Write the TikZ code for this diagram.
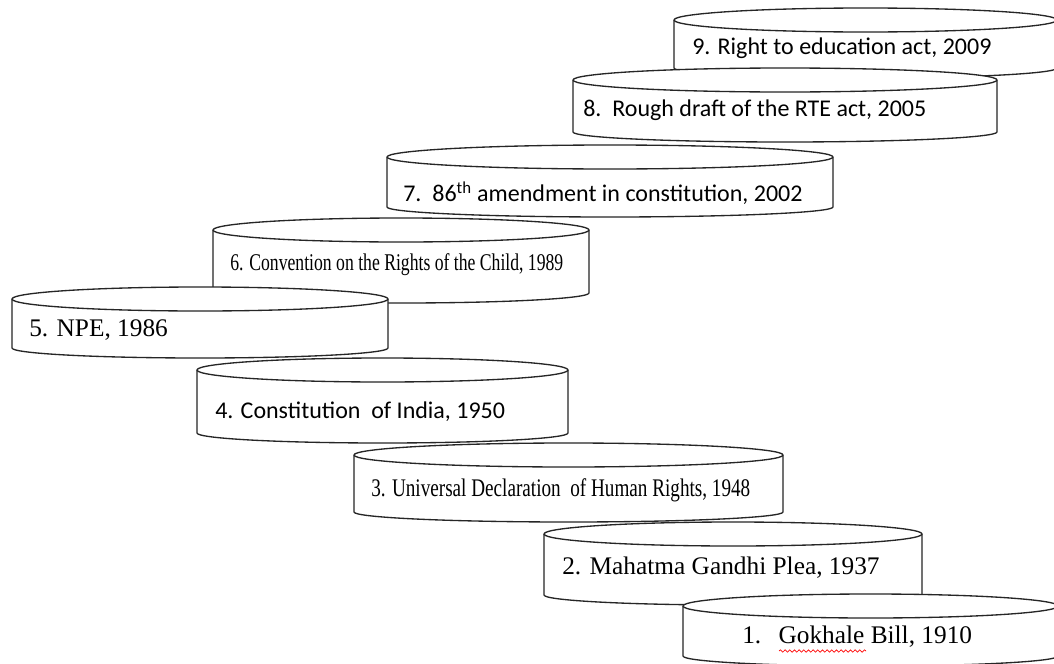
\documentclass[tikz,border=0pt]{standalone}
\usepackage{fontspec}
\setmainfont{Liberation Serif}
\newfontfamily\calfont{Carlito}
\usetikzlibrary{decorations.pathmorphing}

\tikzset{
  disk/.style={draw=black!85, line width=1pt, fill=white},
  cal/.style={font=\calfont\fontsize{18}{20}\selectfont, anchor=west, inner sep=0pt},
  tms/.style={font=\fontsize{19}{21}\selectfont, anchor=west, inner sep=0pt},
}

\begin{document}
\begin{tikzpicture}[x=0.75pt,y=-0.75pt]

\useasboundingbox (0,0) rectangle (1054,664);
\fill[white] (0,0) rectangle (1054,664);
\clip (0,0) rectangle (1054,664);

% disks, back to front: left / right / top centre / side bottom
\foreach \L/\R/\T/\S in {674/1057/20/68, 573/997/80/132, 387/833/157/207, 213/589/230/293,
                         12/388/299/348, 197/568/370/433, 354/783/455/512, 544/922/534/595, 683/1058/606/656}{
    \pgfmathsetmacro\cx{(\L+\R)/2}
    \pgfmathsetmacro\rx{(\R-\L)/2}
    \draw[disk] (\L,\T) -- (\L,\S)
        .. controls (\L,\S+5.5) and (\cx-0.552*\rx,\S+10) .. (\cx,\S+10)
        .. controls (\cx+0.552*\rx,\S+10) and (\R,\S+5.5) .. (\R,\S)
        -- (\R,\T)
        .. controls (\R,\T-6.6) and (\cx+0.552*\rx,\T-12) .. (\cx,\T-12)
        .. controls (\cx-0.552*\rx,\T-12) and (\L,\T-6.6) .. (\L,\T) -- cycle;
    \draw[disk, fill=none] (\L,\T)
        .. controls (\L,\T+6.6) and (\cx-0.552*\rx,\T+12) .. (\cx,\T+12)
        .. controls (\cx+0.552*\rx,\T+12) and (\R,\T+6.6) .. (\R,\T);
}

\node[cal] (t9) at (692,48) {9. Right to education act, 2009};
\node[cal] (t8) at (583,110) {8.\ \ Rough draft of the RTE act, 2005};
\node[cal] (t7) at (403,193) {7.\ \ 86\textsuperscript{th} amendment in constitution, 2002};
\node[tms, font=\fontsize{18}{20}\selectfont] (t6) at (230,265) {\resizebox{249.75pt}{\height}{6. Convention on the Rights of the Child, 1989}};
\node[tms] (t5) at (29,330) {5. NPE, 1986};
\node[cal] (t4) at (215,412) {4. Constitution\ \ of India, 1950};
\node[tms] (t3) at (371,490) {\resizebox{284.25pt}{\height}{3. Universal Declaration\ \ of Human Rights, 1948}};
\node[tms] (t2) at (562,568) {2. Mahatma Gandhi Plea, 1937};
\node[tms] (t1) at (742,637) {1.\hspace{13pt}Gokhale Bill, 1910};

\draw[red, line width=0.5pt, decorate, decoration={snake, amplitude=0.9pt, segment length=3.5pt}] (779,651) -- (866,651);

\end{tikzpicture}
\end{document}
